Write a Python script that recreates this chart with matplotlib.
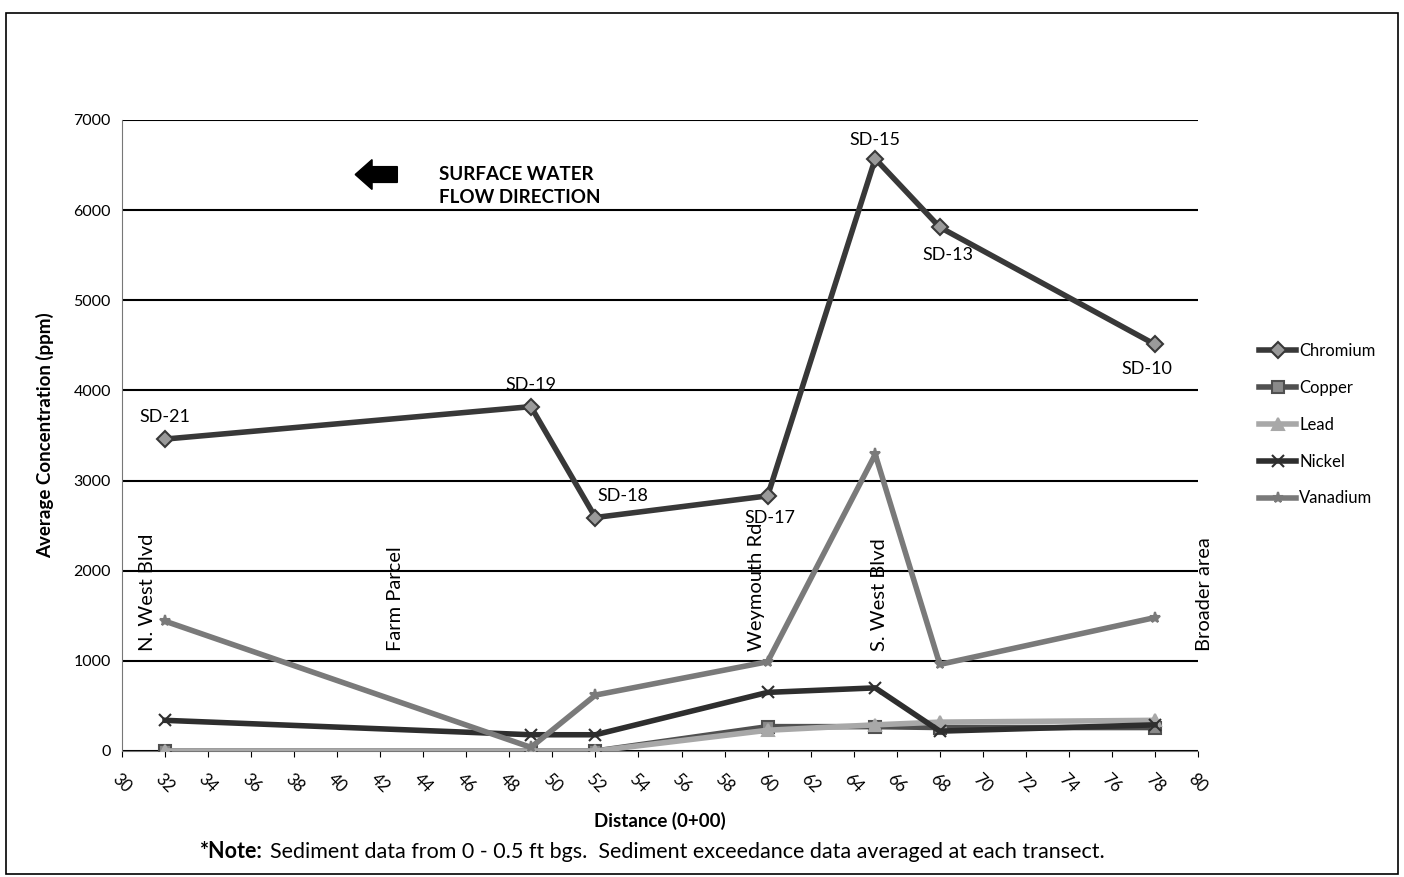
import matplotlib
matplotlib.use("Agg")
from matplotlib import pyplot as plt
from matplotlib.patches import Rectangle, FancyArrow

plt.rcParams['font.family'] = ['Lato', 'DejaVu Sans']

# transect distance (0+00)
dist = [32, 49, 52, 60, 65, 68, 78]
sample_ids = ['SD-21', 'SD-19', 'SD-18', 'SD-17', 'SD-15', 'SD-13', 'SD-10']

chromium = [3460, 3820, 2590, 2830, 6570, 5810, 4510]
copper = [0, 0, 0, 270, 270, 260, 260]
lead = [0, 0, 0, 230, 290, 320, 340]
nickel = [340, 180, 180, 650, 700, 220, 290]
vanadium = [1440, 40, 620, 990, 3290, 960, 1480]

landmarks = ['N. West Blvd', 'Farm Parcel', 'Weymouth Rd', 'S. West Blvd', 'Broader area']
landmark_x = [31.2, 42.7, 59.5, 65.2, 80.3]

fig = plt.figure(figsize=(14.04, 8.77), dpi=100)
ax = fig.add_axes([0.0869, 0.1437, 0.7664, 0.7195])

#--- series: (label, data, colour, marker, marker face)
series = [
    ('Chromium', chromium, '#383838', 'D', '#9a9a9a'),
    ('Copper', copper, '#505050', 's', '#8a8a8a'),
    ('Lead', lead, '#a8a8a8', '^', '#a8a8a8'),
    ('Nickel', nickel, '#2e2e2e', 'x', '#2e2e2e'),
    ('Vanadium', vanadium, '#7a7a7a', '*', '#7a7a7a'),
]
for name, vals, col, mk, fc in series:
    ax.plot(dist, vals, color=col, lw=4, marker=mk, ms=8,
            mfc=fc, mec=col, mew=1.5, label=name, zorder=3)

#--- point labels on chromium
offsets = [(0, 10), (0, 10), (20, 10), (2, -10), (0, 8), (6, -14), (-6, -12)]
for x, y, t, off in zip(dist, chromium, sample_ids, offsets):
    ax.annotate(t, (x, y), xytext=off, textcoords='offset points',
                ha='center', va='bottom' if off[1] > 0 else 'top', fontsize=13)

#--- vertical landmark labels
for name, x in zip(landmarks, landmark_x):
    ax.text(x, 1110, name, rotation=90, ha='center', va='bottom', fontsize=14.5, zorder=4)

ax.set_xlim(30, 80)
ax.set_ylim(0, 7000)
ax.set_xticks(range(30, 81, 2))
ax.set_yticks(range(0, 7001, 1000))
ax.tick_params(axis='x', labelrotation=-45, labelsize=12, length=4, pad=10, direction='out')
ax.tick_params(axis='y', labelsize=11.5, length=0, pad=8)
ax.grid(axis='y', color='black', lw=1.5)
ax.set_axisbelow(True)
for s in ['top', 'right']:
    ax.spines[s].set_visible(False)
ax.spines['left'].set_color('#777777')
ax.spines['bottom'].set_color('#777777')

ax.set_xlabel('Distance (0+00)', fontsize=13.5, fontweight='bold', labelpad=12)
ax.set_ylabel('Average Concentration (ppm)', fontsize=13.5, fontweight='bold', labelpad=14)

ax.legend(loc='center left', bbox_to_anchor=(1.043, 0.517), frameon=False,
          fontsize=12, handlelength=2.2, handletextpad=0.2, labelspacing=1.25)

#--- flow direction note
fig.patches.append(FancyArrow(0.283, 0.801, -0.03, 0, width=0.018, head_width=0.034,
                              head_length=0.012, color='black', transform=fig.transFigure,
                              length_includes_head=True))
fig.text(0.313, 0.788, 'SURFACE WATER\nFLOW DIRECTION', fontsize=13.5, fontweight='bold',
         ha='left', va='center', linespacing=1.45)

fig.text(0.1425, 0.029, '*Note:', fontsize=15.5, fontweight='bold', ha='left', va='center')
fig.text(0.192, 0.029, 'Sediment data from 0 - 0.5 ft bgs.  Sediment exceedance data averaged at each transect.',
         fontsize=15.5, ha='left', va='center')

fig.patches.append(Rectangle((0.004, 0.003), 0.992, 0.982, fill=False, lw=1.2,
                             edgecolor='black', transform=fig.transFigure))

fig.savefig('out.png', dpi=100)
